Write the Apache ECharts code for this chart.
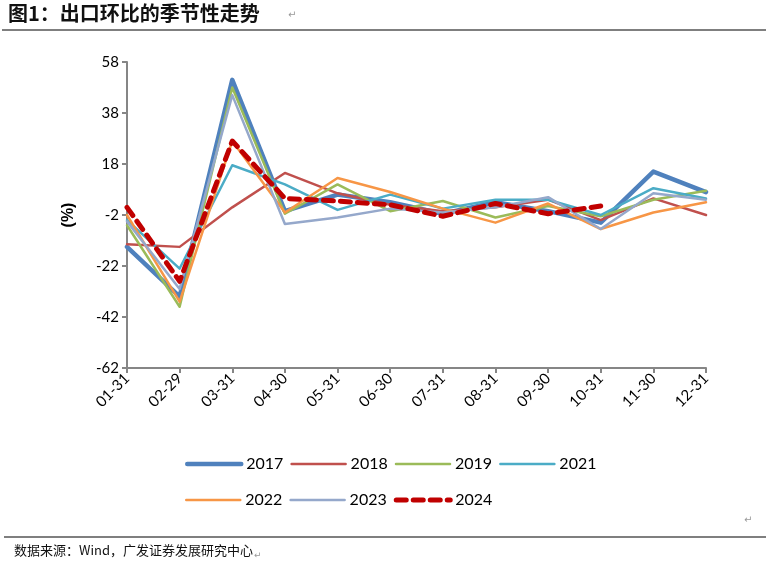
<!DOCTYPE html>
<html><head><meta charset="utf-8">
<script src="https://cdn.jsdelivr.net/npm/echarts@6/dist/echarts.min.js"></script>
<style>html,body{margin:0;padding:0;background:#fff}#c{width:766px;height:568px}</style>
</head><body><div id="c"></div>
<script>
const categories = ['01-31','02-29','03-31','04-30','05-31','06-30','07-31','08-31','09-30','10-31','11-30','12-31'];
const yTicks = [-62,-42,-22,-2,18,38,58];
const s2017 = [-14.5, -34, 51, -0.5, 6, 3, -1.5, 3, -0.5, -5, 15, 7];
const s2018 = [-13.5, -14.5, 1, 14.5, 6.5, 2, -0.5, 1, 4, -4, 4.5, -2];
const s2019 = [-6, -38, 48, -1.5, 10, -0.5, 3.5, -3, 1.5, -2.5, 4, 7.5];
const s2021 = [-4, -23, 17.5, 10, 0, 6, 0.5, 4, 4, -2, 8.5, 4.5];
const s2022 = [-2, -36, 27, -1, 12.5, 7, 0.5, -5, 2.5, -7.5, -1, 3];
const s2023 = [-4.5, -31, 45, -5.5, -3, 0.5, -1, 1, 5, -7.5, 6.5, 4];
const s2024 = [1, -28, 27, 4.5, 3.5, 2, -2.5, 2.5, -1.5, 1.5, null, null];

const base = yTicks[0];
const shift = a => a.map(v => v == null ? null : v - base);

const chart = echarts.init(document.getElementById('c'), null, {renderer:'canvas'});
const mk = (name, data, color, width, type) => ({
  name, type:'line', data: shift(data), symbol:'none', showSymbol:false, smooth:false,
  lineStyle:{color, width, type: type||'solid', cap:'round', join:'round'},
  itemStyle:{color}, emphasis:{disabled:true}
});
const lfont = {fontFamily:'Lato', fontSize:16, color:'#000'};
const legBase = {itemWidth:54, itemHeight:10, itemGap:7, textStyle:lfont,
  itemStyle:{opacity:0}, lineStyle:{width:'inherit', type:'inherit', cap:'round'}};
chart.setOption({
  animation:false,
  backgroundColor:'#fff',
  grid:{left:127, right:60, top:62, bottom:200},
  xAxis:{type:'category', data:categories, boundaryGap:false,
    axisLine:{lineStyle:{color:'#868686', width:2}},
    axisTick:{show:true, alignWithLabel:true, length:5, lineStyle:{color:'#868686', width:2}},
    axisLabel:{rotate:45, margin:8, fontFamily:'Lato', fontSize:15, color:'#000', interval:0}
  },
  yAxis:{type:'value', min:0, max:yTicks[yTicks.length-1]-base, interval:20,
    name:'(%)', nameLocation:'middle', nameGap:50, nameRotate:90,
    nameTextStyle:{fontFamily:'Liberation Sans', fontWeight:'bold', fontSize:16, color:'#000'},
    axisLine:{show:true, lineStyle:{color:'#868686', width:2}},
    axisTick:{show:true, length:5, lineStyle:{color:'#868686', width:2}},
    splitLine:{show:false},
    axisLabel:{formatter:v => String(v + base), fontFamily:'Lato', fontSize:15, color:'#000', margin:8}
  },
  legend:[
    Object.assign({data:['2017','2018','2019','2021'], left:180, top:451}, legBase),
    Object.assign({data:['2022','2023','2024'], left:180, top:487}, legBase)
  ],
  series:[
    mk('2017', s2017, '#4F81BD', 4.5),
    mk('2018', s2018, '#C0504D', 2.5),
    mk('2019', s2019, '#9BBB59', 2.5),
    mk('2021', s2021, '#4BACC6', 2.5),
    mk('2022', s2022, '#F79646', 2.5),
    mk('2023', s2023, '#95A8CB', 2.5),
    mk('2024', s2024, '#C00000', 5, [10,7])
  ],
  graphic:[
    {type:'text', left:8, top:3, style:{text:'图1：出口环比的季节性走势', font:'bold 20px "Noto Sans CJK SC"', fill:'#111'}},
    {type:'text', left:288, top:10, style:{text:'↵', font:'10px "DejaVu Sans"', fill:'#999'}},
    {type:'line', shape:{x1:2, y1:30, x2:766, y2:30}, style:{stroke:'#000', lineWidth:1.2}},
    {type:'text', left:744, top:515, style:{text:'↵', font:'10px "DejaVu Sans"', fill:'#999'}},
    {type:'line', shape:{x1:4, y1:537, x2:766, y2:537}, style:{stroke:'#000', lineWidth:1.2}},
    {type:'text', left:14, top:544, style:{text:'数据来源：Wind，广发证券发展研究中心', font:'13px "Noto Sans CJK SC"', fill:'#111'}},
    {type:'text', left:254, top:551, style:{text:'↵', font:'9px "DejaVu Sans"', fill:'#999'}}
  ]
});
</script></body></html>
